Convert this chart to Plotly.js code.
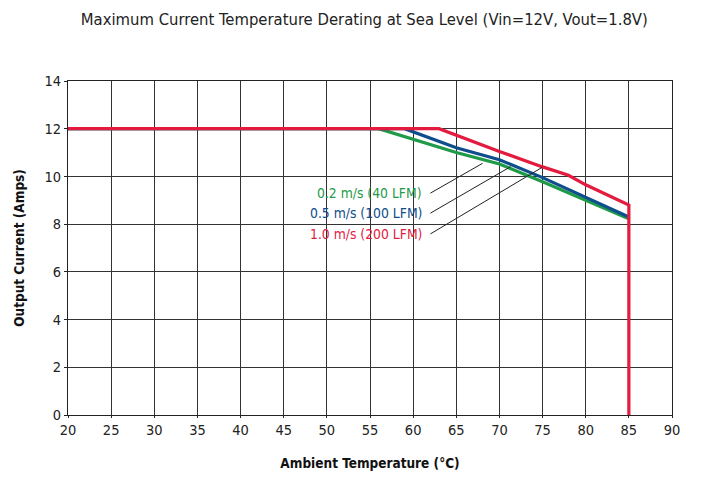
<!DOCTYPE html>
<html>
<head>
<meta charset="utf-8">
<script src="https://cdn.plot.ly/plotly-3.0.1.min.js"></script>
<style>html,body{margin:0;padding:0;background:#fff;}#chart{width:706px;height:502px;}</style>
</head>
<body>
<div id="chart"></div>
<script>
// Data
const greenTemp = [20, 56, 65, 70, 75, 80, 85];
const greenCurr = [12, 12, 11.0, 10.52, 9.78, 9.01, 8.22];
const blueTemp = [20, 59, 65, 70, 75, 80, 85];
const blueCurr = [12, 12, 11.2, 10.7, 9.95, 9.12, 8.3];
const redTemp = [20, 63, 70, 75, 78, 80, 85, 85];
const redCurr = [12, 12, 11.05, 10.4, 10.05, 9.65, 8.8, 0];
const seriesNames = ["0.2 m/s (40 LFM)", "0.5 m/s (100 LFM)", "1.0 m/s (200 LFM)"];
const seriesColors = ["#1f9a48", "#0f4e8c", "#e31b3f"];
// label anchor (text end) and leader line end points
const labelX = [61.25, 61.25, 61.25];
const labelY = [9.30, 8.46, 7.59];
const leaderStartX = [62.0, 62.0, 62.0];
const leaderEndX = [68.05, 71.3, 74.95];
const leaderEndY = [10.55, 10.41, 10.38];
const xTicks = [20,25,30,35,40,45,50,55,60,65,70,75,80,85,90];
const yTicks = [0,2,4,6,8,10,12,14];

const FONT = '"Liberation Sans Narrow", "DejaVu Sans Condensed", Arial, sans-serif';

const traces = [
  {x: greenTemp, y: greenCurr, name: seriesNames[0], mode: 'lines', line: {color: seriesColors[0], width: 3.2}},
  {x: blueTemp, y: blueCurr, name: seriesNames[1], mode: 'lines', line: {color: seriesColors[1], width: 3.2}},
  {x: redTemp, y: redCurr, name: seriesNames[2], mode: 'lines', line: {color: seriesColors[2], width: 3.2}}
];

const annotations = seriesNames.map((t, i) => ({
  x: labelX[i], y: labelY[i], xref: 'x', yref: 'y', text: t, showarrow: false,
  xanchor: 'right', yanchor: 'middle', font: {family: FONT, size: 13.8, color: seriesColors[i]}
}));

const shapes = seriesNames.map((t, i) => ({
  type: 'line', xref: 'x', yref: 'y',
  x0: leaderStartX[i], y0: labelY[i], x1: leaderEndX[i], y1: leaderEndY[i],
  line: {color: '#222', width: 1}
}));

const layout = {
  width: 706, height: 502,
  margin: {l: 68, r: 34, t: 81, b: 87},
  paper_bgcolor: '#fff', plot_bgcolor: '#fff',
  showlegend: false,
  title: {text: 'Maximum Current Temperature Derating at Sea Level (Vin=12V, Vout=1.8V)',
          x: 0.516, xanchor: 'center', y: 0.962, yanchor: 'middle',
          font: {family: FONT, size: 16.5, color: '#222'}},
  xaxis: {range: [20, 90], tickvals: xTicks, ticktext: xTicks.map(String),
          showgrid: true, gridcolor: '#333', gridwidth: 1, zeroline: false,
          showline: true, linecolor: '#222', linewidth: 1, mirror: true,
          ticks: 'outside', ticklen: 2, tickcolor: '#222',
          tickfont: {family: FONT, size: 14.5, color: '#222'},
          title: {text: '<b>Ambient Temperature (°C)</b>', standoff: 21,
                  font: {family: FONT, size: 13.5, color: '#111'}}},
  yaxis: {range: [0, 14], tickvals: yTicks, ticktext: yTicks.map(String),
          showgrid: true, gridcolor: '#333', gridwidth: 1, zeroline: false,
          showline: true, linecolor: '#222', linewidth: 1, mirror: true,
          ticks: 'outside', ticklen: 3, tickcolor: '#222',
          tickfont: {family: FONT, size: 14.5, color: '#222'},
          title: {text: '<b>Output Current (Amps)</b>', standoff: 16,
                  font: {family: FONT, size: 13.5, color: '#111'}}},
  annotations: annotations,
  shapes: shapes
};

Plotly.newPlot('chart', traces, layout, {staticPlot: true, displayModeBar: false});
</script>
</body>
</html>
